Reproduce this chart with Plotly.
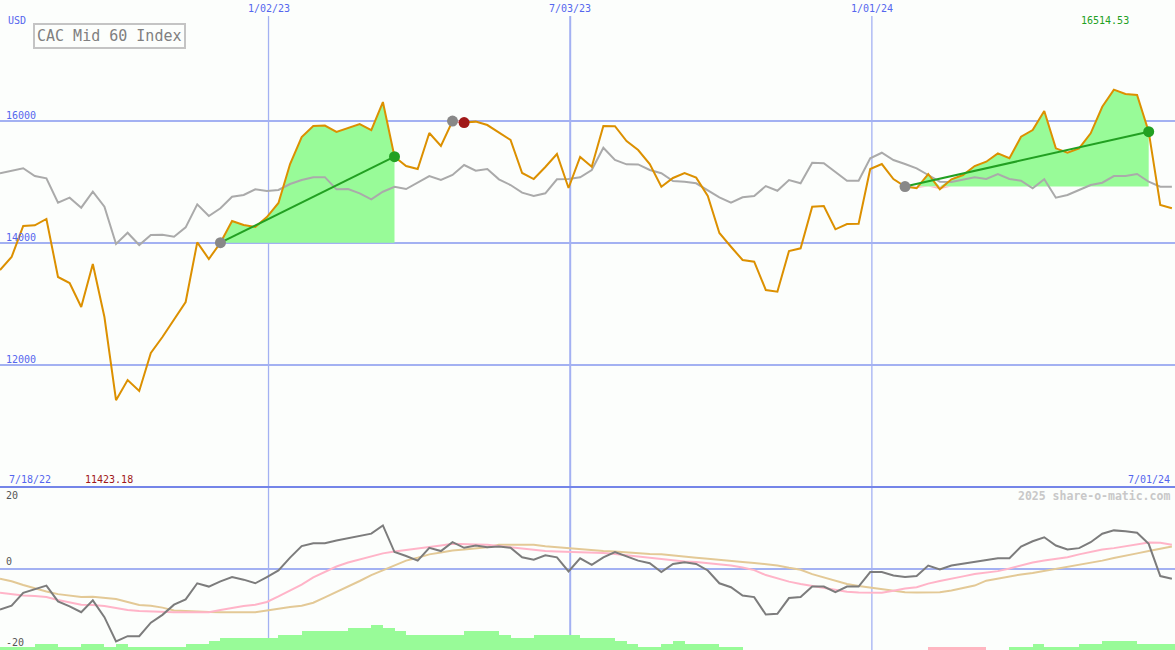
import numpy as np
import pandas as pd
import plotly.graph_objects as go

# ---------------- data ----------------
start_date = "2022-07-24"
index_close = [
    13557, 13770, 14279, 14290, 14394, 13443, 13344, 12951, 13656, 12787,
    11423.18, 11754, 11574, 12197, 12459, 12738, 13033, 14010, 13738, 14005,
    14361, 14295, 14262, 14426, 14656, 15295, 15738, 15918, 15925, 15820,
    15885, 15951, 15852, 16311, 15415, 15262, 15213, 15803, 15590, 16000,
    15975, 15990, 15934, 15808, 15689, 15148, 15049, 15246, 15459, 14902,
    15410, 15251, 15918, 15915, 15672, 15525, 15295, 14923, 15066, 15148,
    15071, 14771, 14164, 13939, 13721, 13694, 13230, 13202, 13869, 13913,
    14595, 14607, 14225, 14312, 14315, 15213, 15295, 15049, 14925, 14897,
    15131, 14880, 15044, 15115, 15262, 15333, 15470, 15389, 15743, 15852,
    16164, 15552, 15480, 15550, 15798, 16234, 16514.53, 16443, 16426, 15825,
    14623, 14569,
]
relative_line = [
    15143, 15185, 15225, 15098, 15061, 14661, 14743, 14579, 14841, 14595,
    13984, 14169, 13967, 14131, 14135, 14103, 14257, 14634, 14443, 14569,
    14759, 14787, 14880, 14852, 14870, 14967, 15033, 15077, 15080, 14880,
    14885, 14815, 14716, 14841, 14923, 14885, 14989, 15098, 15033, 15115,
    15279, 15185, 15213, 15044, 14951, 14825, 14771, 14815, 15044, 15049,
    15077, 15197, 15562, 15361, 15290, 15288, 15197, 15143, 15016, 15005,
    14979, 14869, 14749, 14661, 14749, 14771, 14934, 14857, 15033, 14979,
    15316, 15307, 15159, 15021, 15020, 15389, 15480, 15361, 15295, 15225,
    15115, 15005, 15000, 15033, 15077, 15049, 15131, 15049, 15021, 14897,
    15044, 14743, 14787, 14869, 14951, 14989, 15098, 15100, 15131, 15005,
    14923, 14923,
]
momentum = [
    -12.5, -11.3, -7.4, -6.4, -5.2, -10.0, -11.5, -13.3, -9.7, -14.8,
    -22.2, -20.6, -20.6, -16.5, -14.1, -11.0, -9.4, -4.5, -5.5, -3.9,
    -2.6, -3.4, -4.5, -2.6, -0.6, 3.3, 6.8, 7.7, 7.7, 8.5,
    9.2, 10.0, 10.6, 13.1, 5.0, 3.8, 2.4, 6.3, 5.3, 8.0,
    6.3, 7.0, 6.5, 6.7, 6.3, 3.4, 2.7, 4.0, 3.4, -0.9,
    3.1, 1.1, 3.4, 5.0, 3.7, 2.4, 1.6, -1.1, 1.4, 1.9,
    1.4, -0.6, -4.5, -5.7, -8.2, -8.7, -14.0, -13.8, -9.0, -8.7,
    -5.5, -5.5, -7.2, -5.5, -5.5, -1.1, -1.1, -2.1, -2.6, -2.3,
    0.9, -0.3, 0.9, 1.4, 1.9, 2.6, 3.1, 3.1, 6.7, 8.3,
    9.5, 7.0, 5.8, 6.2, 8.0, 10.6, 11.6, 11.3, 10.9, 7.5,
    -2.3, -3.1,
]
ma_short = [
    -7.4, -7.9, -8.2, -8.4, -8.7, -9.6, -10.3, -11.0, -11.1, -11.4,
    -12.0, -12.6, -12.9, -13.1, -13.2, -13.3, -13.3, -13.3, -13.3, -12.6,
    -11.9, -11.4, -11.0, -10.2, -8.5, -6.7, -4.9, -2.7, -1.1, 0.6,
    1.8, 2.7, 3.5, 4.6, 5.2, 5.6, 6.1, 6.5, 7.0, 7.5,
    7.5, 7.3, 7.2, 6.8, 6.5, 6.1, 5.6, 5.3, 5.2, 5.1,
    5.0, 4.9, 4.7, 4.4, 4.0, 3.5, 3.2, 2.8, 2.4, 2.1,
    2.0, 1.7, 1.4, 0.9, 0.3, -0.5, -2.0, -3.0, -4.0, -4.7,
    -5.3, -5.9, -6.5, -7.1, -7.3, -7.4, -7.4, -6.8, -6.1, -5.7,
    -4.6, -3.8, -3.0, -2.4, -1.7, -1.2, -0.8, 0.0, 0.9, 1.8,
    2.4, 2.9, 3.4, 4.3, 5.0, 5.8, 6.2, 6.8, 7.3, 7.9,
    7.8, 7.2,
]
ma_long = [
    -3.1, -3.9, -5.0, -6.1, -7.0, -7.8, -8.2, -8.7, -8.6, -9.0,
    -9.3, -10.2, -11.1, -11.3, -11.9, -12.8, -13.0, -13.1, -13.2, -13.3,
    -13.3, -13.3, -13.3, -12.8, -12.2, -11.7, -11.3, -10.4, -8.8, -7.2,
    -5.5, -3.8, -2.0, -0.5, 0.8, 2.4, 3.3, 4.3, 4.9, 5.5,
    5.8, 6.1, 6.5, 7.2, 7.2, 7.2, 7.2, 6.8, 6.5, 6.1,
    5.8, 5.5, 5.3, 5.2, 4.9, 4.6, 4.4, 4.3, 3.9, 3.7,
    3.3, 3.0, 2.6, 2.3, 2.0, 1.7, 1.3, 0.9, 0.2, -0.4,
    -1.7, -2.7, -3.8, -4.7, -5.3, -5.8, -6.2, -6.8, -7.2, -7.3,
    -7.3, -7.2, -6.7, -5.9, -5.2, -3.7, -3.0, -2.4, -1.8, -1.4,
    -0.8, -0.2, 0.5, 1.1, 1.7, 2.4, 3.2, 3.8, 4.6, 5.3,
    6.1, 6.7,
]
signal_bars = [
    1, 1, 1, 2, 2, 1, 1, 2, 2, 1,
    2, 1, 1, 1, 1, 1, 2, 2, 3, 4,
    4, 4, 4, 4, 5, 5, 6, 6, 6, 6,
    7, 7, 8, 7, 6, 5, 5, 5, 5, 5,
    6, 6, 6, 5, 4, 4, 5, 5, 5, 5,
    4, 4, 4, 3, 2, 1, 1, 2, 3, 2,
    2, 2, 1, 1, 0, 0, 0, 0, 0, 0,
    0, 0, 0, 0, 0, 0, 0, 0, 0, 0,
    -1, -1, -1, -1, -1, 0, 0, 1, 1, 2,
    1, 1, 1, 2, 2, 3, 3, 3, 2, 2,
    2, 2,
]
trade_buy_idx = [19, 39, 78]
trade_sell_idx = [34, 40, 99]
price_ticks = [12000, 14000, 16000]
osc_ticks = [20, 0, -20]
date_ticks = ["2023-01-02", "2023-07-03", "2024-01-01"]
date_tick_labels = ["1/02/23", "7/03/23", "1/01/24"]
x_range = ["2022-07-24", "2024-07-01 21:00"]
title_text = "CAC Mid 60 Index"
high_text = "16514.53"
low_text = "11423.18"
first_label = "7/18/22"
last_label = "7/01/24"
credit = "2025 share-o-matic.com"

# ---------------- styles ----------------
BG = "#fcfefc"
GRID = "#a3b1f2"
SEP = "#7485e8"
BLUE_TXT = "#5566ee"
ORANGE = "#dc9000"
GRAY = "#aaaaaa"
MOM = "#7c7c7c"
PINK = "#ffb4c8"
TAN = "#e3c996"
FILL_G = "#98fb98"
FILL_P = "#ffb6c1"
TREND_G = "#22a022"
RED = "#a01818"
FONT = "DejaVu Sans Mono"

W, H = 1175, 650
split = (H - 487) / H

dates = pd.date_range(start_date, periods=len(index_close), freq="7D")
close = np.array(index_close, dtype=float)

fig = go.Figure()

# lower panel bars (base axis y2)
bars = np.array(signal_bars, dtype=float)
fig.add_trace(go.Bar(
    x=dates, y=np.abs(bars), xaxis="x", yaxis="y2",
    marker=dict(color=[FILL_G if b >= 0 else FILL_P for b in bars], line=dict(width=0)),
    width=7 * 24 * 3600 * 1000, offset=0, hoverinfo="skip", showlegend=False,
))

# trade fills
for b, s in zip(trade_buy_idx, trade_sell_idx):
    seg_x = dates[b:s + 1]
    seg_y = close[b:s + 1]
    base = np.full(len(seg_y), close[b])
    for part, col in ((np.maximum(seg_y, base), FILL_G), (np.minimum(seg_y, base), FILL_P)):
        fig.add_trace(go.Scatter(x=seg_x, y=base, mode="lines", line=dict(width=0),
                                 hoverinfo="skip", showlegend=False, xaxis="x", yaxis="y"))
        fig.add_trace(go.Scatter(x=seg_x, y=part, mode="lines", line=dict(width=0),
                                 fill="tonexty", fillcolor=col,
                                 hoverinfo="skip", showlegend=False, xaxis="x", yaxis="y"))

# main lines
fig.add_trace(go.Scatter(x=dates, y=relative_line, mode="lines",
                         line=dict(color=GRAY, width=2), hoverinfo="skip",
                         showlegend=False, xaxis="x", yaxis="y"))
fig.add_trace(go.Scatter(x=dates, y=close, mode="lines",
                         line=dict(color=ORANGE, width=2), hoverinfo="skip",
                         showlegend=False, xaxis="x", yaxis="y"))

# trade trend lines and markers
for b, s in zip(trade_buy_idx, trade_sell_idx):
    gain = close[s] >= close[b]
    fig.add_trace(go.Scatter(
        x=[dates[b], dates[s]], y=[close[b], close[s]], mode="lines+markers",
        line=dict(color=TREND_G if gain else PINK, width=2),
        marker=dict(size=11, color=["#888888", TREND_G if gain else RED]),
        hoverinfo="skip", showlegend=False, xaxis="x", yaxis="y"))

# oscillator lines (y3 overlaying y2)
for arr, col in ((ma_long, TAN), (ma_short, PINK), (momentum, MOM)):
    fig.add_trace(go.Scatter(x=dates, y=arr, mode="lines", line=dict(color=col, width=2),
                             hoverinfo="skip", showlegend=False, xaxis="x", yaxis="y3"))

shapes = []
for i, d in enumerate(date_ticks):
    shapes.append(dict(type="line", xref="x", yref="paper", x0=d, x1=d, y0=0, y1=1 - 16 / H,
                       line=dict(color=GRID, width=2 if i == 1 else 1.3), layer="below"))
shapes.append(dict(type="line", xref="paper", yref="paper", x0=0, x1=1, y0=split, y1=split,
                   line=dict(color=SEP, width=2)))

ann = []
def txt(text, x, y, color, size=10, xanchor="left", xref="paper", yref="paper", yshift=0, **kw):
    ann.append(dict(text=text, x=x, y=y, xref=xref, yref=yref, xanchor=xanchor,
                    yanchor="middle", showarrow=False, yshift=yshift,
                    font=dict(family=FONT, size=size, color=color), **kw))

txt("USD", 6 / W, 1 - 20 / H, BLUE_TXT)
for v in price_ticks:
    txt(str(v), 4 / W, v, BLUE_TXT, yref="y", yshift=6)
for v in osc_ticks:
    txt(str(v), 4 / W, v, "#555555", yref="y3", yshift=(-8 if v < 0 else 7))
for d, lab in zip(date_ticks, date_tick_labels):
    txt(lab, d, 1 - 8 / H, BLUE_TXT, xanchor="center", xref="x")
txt(title_text, 33 / W, 1 - 36 / H, "#808080", size=15, bordercolor="#c4c4c4",
    borderwidth=2, borderpad=2, bgcolor=BG)
txt(high_text, 1131 / W, 1 - 21 / H, TREND_G, xanchor="right")
txt(first_label, 7 / W, 1 - 479 / H, BLUE_TXT)
txt(low_text, 83 / W, 1 - 479 / H, RED)
txt(last_label, 1172 / W, 1 - 479 / H, BLUE_TXT, xanchor="right")
txt("<b>" + credit + "</b>", 1172 / W, 1 - 496 / H, "#c8c8c8", size=11.5, xanchor="right")

fig.update_layout(
    width=W, height=H, autosize=False,
    margin=dict(l=0, r=0, t=0, b=0, pad=0),
    paper_bgcolor=BG, plot_bgcolor=BG,
    showlegend=False, hovermode=False, bargap=0,
    xaxis=dict(type="date", range=x_range, showgrid=False, showticklabels=False,
               zeroline=False, showline=False, ticks="", anchor="y2"),
    yaxis=dict(domain=[split, 1], range=[10000, 17984], tickvals=price_ticks,
               showgrid=True, gridcolor=GRID, gridwidth=2, showticklabels=False,
               zeroline=False, showline=False, ticks=""),
    yaxis2=dict(domain=[0, split], range=[0, 52.6], showgrid=False, showticklabels=False,
                zeroline=False, showline=False, ticks=""),
    yaxis3=dict(overlaying="y2", range=[-24.8, 24.8], tickvals=[0], showgrid=True,
                gridcolor=GRID, gridwidth=2, showticklabels=False, zeroline=False,
                showline=False, ticks=""),
    shapes=shapes, annotations=ann,
)

fig.write_html(
    "out.html",
    config={"displayModeBar": False, "staticPlot": True},
    post_script="document.body.style.margin='0';document.body.style.overflow='hidden';"
                "document.body.style.background='" + BG + "';",
)
